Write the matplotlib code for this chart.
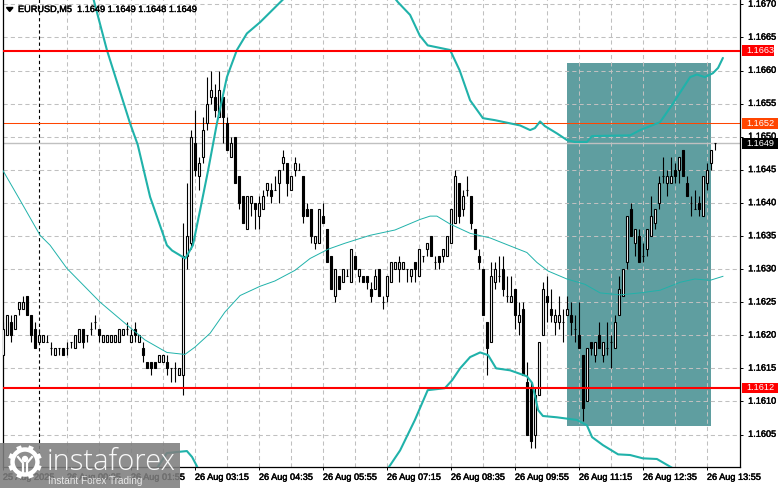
import numpy as np
import matplotlib
matplotlib.use("Agg")
import matplotlib.pyplot as plt
import matplotlib.patheffects as pe
from matplotlib.transforms import ScaledTranslation
from matplotlib.patches import Rectangle, Circle

BASE = 1.1600
PIP = 0.0001

# OHLC in pips above 1.1600, one entry per M5 candle
opens = [17,20,22,21,24,24,26,23,21,19,19,19,18,17,18,18,18,19,18,19,21,20,21,22,21,19,19,19,19,19,
         20,21,19,21,19,18,16,16,16,16,16,16,15,15,14,14,32,34,49,44,47,52,56,56,53,56,52,47,50,44,
         41,36,40,40,38,39,42,42,42,43,46,46,42,45,45,44,39,39,34,34,38,36,32,26,29,28,29,28,32,29,
         29,29,27,27,30,25,26,28,30,30,30,30,29,31,29,32,33,35,31,32,32,32,34,37,43,39,42,41,36,32,
         30,22,19,28,29,30,26,25,27,22,24,13,12,5,11,20,26,24,22,22,22,23,23,21,20,17,10,19,17,20,
         17,18,19,18,23,26,31,39,34,35,32,33,35,37,40,44,43,43,45,45,48,43,40,39,40,38,43,46,49]
highs = [22,23,23,23,25,26,26,23,22,21,20,20,19,18,18,18,19,19,20,21,21,20,22,23,21,20,20,20,20,21,
         21,22,21,22,20,19,16,16,16,17,17,17,15,16,15,37,43,51,54,47,53,59,60,58,60,56,53,50,50,44,
         41,41,41,40,41,42,43,43,44,45,48,46,44,47,46,44,40,39,35,39,40,36,32,30,29,30,30,33,32,30,
         29,29,28,30,30,26,29,31,31,32,31,30,30,31,33,32,34,35,32,32,33,35,39,45,43,42,44,41,36,33,
         30,22,31,31,32,32,29,29,27,25,25,16,13,12,19,28,29,27,24,26,24,26,25,23,25,17,18,19,19,22,
         19,22,20,23,29,30,38,40,36,36,34,36,41,39,44,47,45,47,46,47,48,44,41,42,41,44,46,48,49]
lows = [17,20,19,21,23,24,23,19,18,19,19,19,17,17,17,17,17,18,18,19,18,19,20,21,19,19,19,19,19,19,
        20,20,19,19,19,16,15,14,15,16,16,14,13,13,14,11,30,33,44,42,46,51,55,53,53,49,48,47,43,39,
        37,36,38,36,36,39,41,40,42,40,45,41,42,44,45,37,38,34,33,34,37,31,27,25,27,28,29,28,30,28,
        28,27,25,27,26,24,25,28,30,28,30,28,28,28,29,31,32,32,30,30,31,32,34,37,37,38,41,36,33,30,
        23,14,19,27,28,26,25,25,21,20,14,5,3,3,11,20,22,22,20,21,19,23,20,19,18,7,10,17,16,18,
        16,17,15,18,23,26,30,35,32,31,31,32,35,36,39,43,41,43,43,43,44,41,38,39,38,38,42,45,48]
closes = [21,23,20,23,25,25,23,20,18,20,20,19,18,18,18,17,18,19,20,21,19,20,21,22,20,20,20,20,20,21,
          21,21,20,20,20,17,15,15,15,17,17,15,15,15,15,32,35,50,45,46,51,55,57,54,57,53,48,49,43,40,
          37,41,41,39,40,41,43,41,42,45,47,43,44,46,45,38,38,35,35,39,37,31,27,30,27,30,29,33,30,30,
          28,28,26,29,26,25,29,31,31,31,31,30,30,30,33,32,34,32,31,31,33,35,39,44,38,41,42,37,33,31,
          23,18,29,30,29,27,26,26,23,23,14,5,4,11,19,27,25,23,23,23,22,24,22,21,18,9,18,18,19,18,
          19,18,19,22,27,30,38,35,36,31,32,36,38,39,43,44,44,44,44,47,44,41,40,39,39,44,45,48,49]

# Bollinger band readings: candle position and pips above 1.1600
upper_a_t = [22.2,26,31.8,33.7,36.8,41,42.3,45.6,47.5,49.3,51.3,53.5,56,58.5,61,64.3,66.8,69.8,71.2]
upper_a_v = [71.8,63.1,52,48.8,40.9,33.6,32.8,31.6,33.6,38.9,44.9,52,59,63.1,65.6,67.3,68.8,70.6,71.4]
upper_b_t = [97.2,98.8,101.8,104.2,106.2,111.8,114.2,116.8,120,123,129.3,131.8,133,134.3,135.5,138.5,141,
             143,146,147.3,156.8,159.3,164.3,167.5,171.8,173.5,175.5,177.5,178.8,180]
upper_b_v = [71.5,70.3,68.4,65.3,63.8,63.1,60,55.5,52.8,52.5,51.7,51,51.3,52.3,51.6,50.5,49.5,
             49.2,49.2,50.1,50.2,51,52.2,55,59,59.4,59,59.6,60.4,61.9]
lower_a_t = [38,38.5,41,42.6,46,47.3,48.6,49]
lower_a_v = [-0.7,-0.1,2.2,2.3,2.5,1.6,0.1,-0.7]
lower_b_t = [95.5,96.3,99.3,103,106.2,110.5,112.3,114.3,116.8,119.3,121.3,123.3,126.8,131,132.3,133.8,135,
             138.5,143.5,146,147.3,150,153.8,156.8,160,163.5,167.5,168.5]
lower_b_v = [-0.7,-0.1,2.6,7.2,11.7,12,13.2,15,16.7,17.4,17,15,14.7,13.8,12.8,8.7,7.8,
             7.6,7.2,6.4,4.6,3.4,2,1.9,1.4,1.3,-0.1,-0.7]
middle_t = [0,4.3,9.3,11.8,16,24.3,32.5,35.5,41,45.5,48,51.8,55.5,59.3,64.3,68,73,76.8,81.3,85.5,
            91.8,98,104.3,106.8,108.5,111.8,116.8,121.8,126.8,131,133.5,136.3,141,145.5,149.3,154.3,
            159.3,164.3,169.3,173,176.8,180]
middle_v = [44.9,40.4,35.1,33.6,30.1,25,20.8,19.3,17.4,17.1,18.2,20.3,23.5,26,27.4,28.2,29.8,31.6,33,33.9,
            35.1,35.9,37.5,38,38,36.8,35.4,34.7,33.5,32.5,31,29.7,28.5,27.7,26.4,26.1,
            26.4,26.8,28,28.5,28.3,28.9]

price_ticks = [1.1605,1.1610,1.1615,1.1620,1.1625,1.1630,1.1635,1.1640,1.1645,1.1650,1.1655,1.1660,1.1665,1.1670]
time_positions = [0,16,32,48,64,80,96,112,128,144,160,176]
time_labels = ["25 Aug 2025","26 Aug 00:35","26 Aug 01:55","26 Aug 03:15","26 Aug 04:35","26 Aug 05:55",
               "26 Aug 07:15","26 Aug 08:35","26 Aug 09:55","26 Aug 11:15","26 Aug 12:35","26 Aug 13:55"]
grid_positions = list(range(16,177,8))
levels_red = [1.1663,1.1612]
level_orange = 1.1652
level_bid = 1.1649
zone_t = [141.0,176.95]
zone_p = [1.16063,1.16612]
crosshair_t = 9.1
header = "EURUSD,M5  1.1649 1.1649 1.1648 1.1649"

W,H = 781,489
plt.rcParams['font.family'] = ['Liberation Sans','DejaVu Sans']
FS = 6.6
bold = [pe.withStroke(linewidth=0.3,foreground='black')]
X0,Y0 = 2.9,468.6
fig = plt.figure(figsize=(W/100,H/100),dpi=100,facecolor='white')
L,R,T,B = 2.5,739.8,0.0,468.3
ax = fig.add_axes([L/W,1-B/H,(R-L)/W,(B-T)/H])
ax.set_xlim((L-X0)/4,(R-X0)/4)
ax.set_ylim(BASE+(Y0-B)/6.618*PIP,BASE+(Y0-T)/6.618*PIP)
px = lambda a: BASE+np.asarray(a,float)*PIP

ax.add_patch(Rectangle((zone_t[0],zone_p[0]),zone_t[1]-zone_t[0],zone_p[1]-zone_p[0],
                       facecolor='#5f9ea0',edgecolor='none',zorder=1))
ax.hlines(price_ticks,*ax.get_xlim(),colors='#c0c0c0',linestyles=(0,(4,3)),linewidth=0.75,zorder=1.5)
ax.vlines(grid_positions,*ax.get_ylim(),colors='#c0c0c0',linestyles=(0,(4,3)),linewidth=0.75,zorder=1.5)
ax.axvline(crosshair_t,color='black',linestyle=(0,(3,2.5)),linewidth=0.8,zorder=2)

t = np.arange(len(opens))
o,h,l,c = map(px,(opens,highs,lows,closes))
ax.vlines(t,l,h,colors='black',linewidth=0.8,zorder=3)
bull = c>=o
ax.bar(t,np.abs(c-o),0.5,bottom=np.minimum(o,c),
       color=np.where(bull,'white','black'),edgecolor='black',linewidth=0.8,zorder=3.5)

teal='#20b2aa'
for a,b in ((upper_a_t,upper_a_v),(upper_b_t,upper_b_v),(lower_a_t,lower_a_v),(lower_b_t,lower_b_v)):
    ax.plot(a,px(b),color=teal,lw=1.5,zorder=4,solid_capstyle='round')
ax.plot(middle_t,px(middle_v),color=teal,lw=0.7,zorder=4)
for v in levels_red:
    ax.axhline(v,color='#ff0000',lw=1.5,zorder=5)
ax.axhline(level_orange,color='#ff4500',lw=0.75,zorder=2.5)
ax.axhline(level_bid,color='#c0c0c0',lw=1.0,zorder=2.5)

ax.spines['top'].set_visible(False)
for s in ('left','right','bottom'):
    ax.spines[s].set_linewidth(0.9)
ax.yaxis.tick_right()
ax.set_yticks(price_ticks)
ax.set_yticklabels([f"{v:.4f}" for v in price_ticks])
ax.tick_params(axis='y',length=2.5,width=0.7,pad=3.5,labelsize=FS)
ax.set_xticks(time_positions)
ax.set_xticklabels(time_labels,ha='left')
ax.tick_params(axis='x',length=2.5,width=0.7,pad=1.5,labelsize=FS)
up = ScaledTranslation(0,1.2/72*0.72*100/100,fig.dpi_scale_trans)
up = ScaledTranslation(0,1.2/100,fig.dpi_scale_trans)
for lab in ax.get_yticklabels():
    lab.set_transform(lab.get_transform()+up)
    lab.set_path_effects(bold)
for lab in ax.get_xticklabels():
    lab.set_path_effects(bold)

trans = ax.get_yaxis_transform()
tags = [(1.1663,'#ff0000',774),(1.1652,'#ff4500',778),(1.1649,'#000000',778),(1.1612,'#ff0000',778)]
for v,col,xr in tags:
    x0 = (742-L)/(R-L); x1 = (xr-L)/(R-L)
    ax.add_patch(Rectangle((x0,v-5.2/6.618*PIP),x1-x0,10.4/6.618*PIP,transform=trans,
                           facecolor=col,edgecolor='none',clip_on=False,zorder=6))
    ax.text((746-L)/(R-L),v,f"{v:.4f}",transform=trans+up,color='white',fontsize=FS,
            va='center',ha='left',clip_on=False,zorder=7)

ov = fig.add_axes([0,0,1,1],facecolor='none')
ov.set_xlim(0,W); ov.set_ylim(H,0); ov.axis('off')
ov.fill([6.5,13,9.7],[8.5,8.5,12.5],color='black',zorder=5)
ov.text(18,10.5,header,fontsize=FS,va='center',ha='left',color='black',zorder=5,path_effects=bold)

ov.add_patch(Rectangle((0,444),180,45,facecolor='#7f7f7f',alpha=0.88,edgecolor='none',zorder=8))
gx,gy = 25,463
ov.add_patch(Circle((gx,gy),12.5,facecolor='none',edgecolor='white',lw=3.2,zorder=9))
for ang in np.arange(0,360,45)+22.5:
    r=np.deg2rad(ang)
    ov.plot([gx+11*np.cos(r),gx+17*np.cos(r)],[gy+11*np.sin(r),gy+17*np.sin(r)],color='white',lw=3.6,
            solid_capstyle='butt',zorder=9)
ov.add_patch(Circle((gx,gy-3),3.2,facecolor='white',edgecolor='none',zorder=9))
ov.plot([gx-7,gx-2,gx-2],[gy-5,gy+1,gy+12],color='white',lw=1.6,zorder=9)
ov.plot([gx+7,gx+2,gx+2],[gy-5,gy+1,gy+12],color='white',lw=1.6,zorder=9)
ov.text(47,462.5,"instaforex",color='white',fontsize=21,va='center',ha='left',alpha=0.95,
        family='Open Sans',fontweight='light',zorder=9)
ov.text(48,480.5,"Instant Forex Trading",color='white',fontsize=7.2,va='center',ha='left',alpha=0.8,zorder=9)

fig.savefig('out.png',dpi=100)
